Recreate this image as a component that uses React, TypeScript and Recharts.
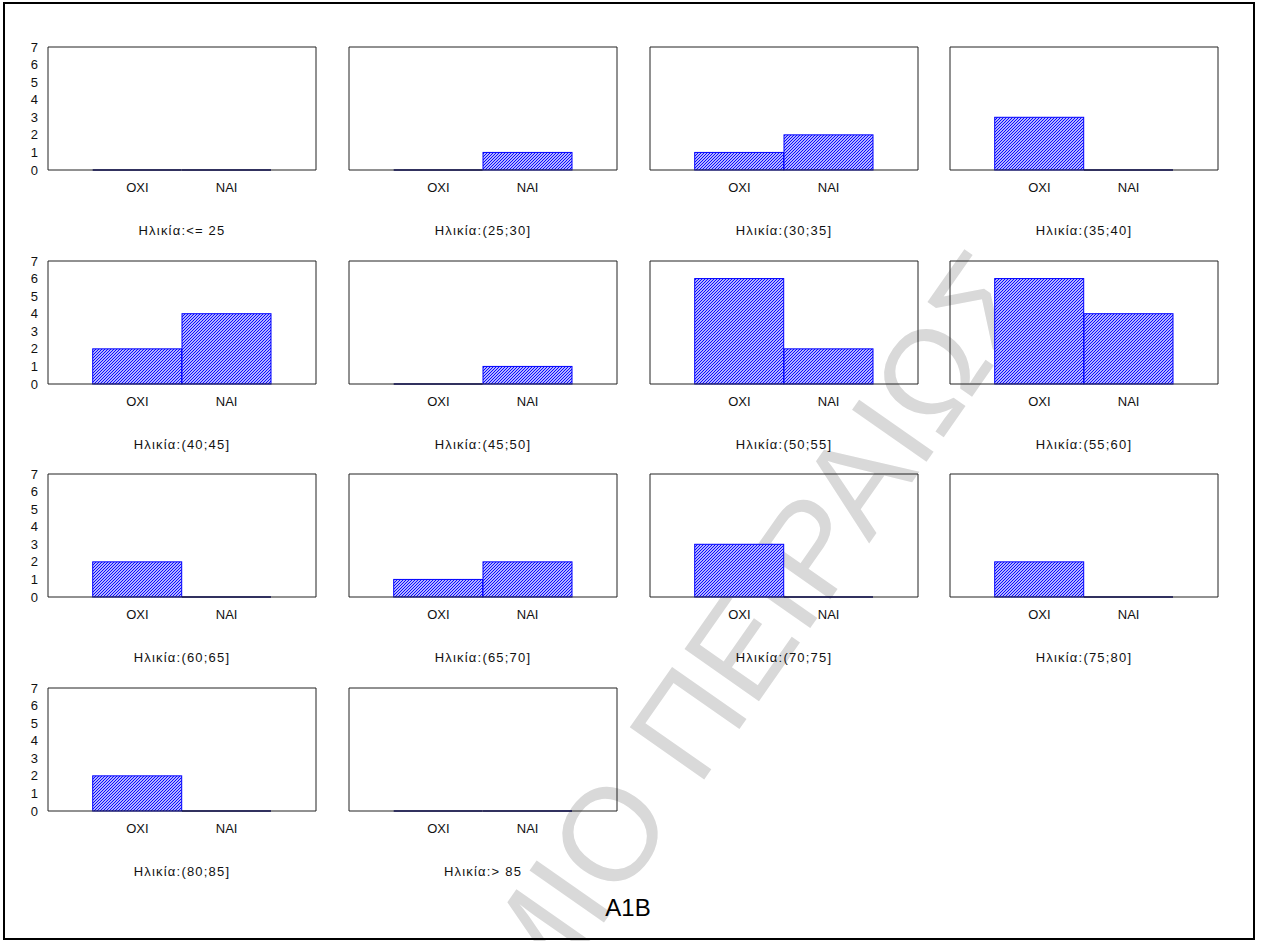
import { BarChart, Bar, XAxis, YAxis } from "recharts";

// answer categories and age groups
const categories = ["OXI", "NAI"];
const ageGroups = [
  "<= 25", "(25;30]", "(30;35]", "(35;40]",
  "(40;45]", "(45;50]", "(50;55]", "(55;60]",
  "(60;65]", "(65;70]", "(70;75]", "(75;80]",
  "(80;85]", "> 85",
];
const oxiCounts = [0, 0, 1, 3, 2, 0, 6, 6, 2, 1, 3, 2, 2, 0];
const naiCounts = [0, 1, 2, 0, 4, 1, 2, 4, 0, 2, 0, 0, 0, 0];
const yTicks = [0, 1, 2, 3, 4, 5, 6, 7];

const FONT = "'Liberation Sans', Arial, Helvetica, sans-serif";
const AXIS = "#222";
const BLUE = "#0000ff";

function HatchBar(props: any) {
  const { x, y, width, height, pid } = props;
  if (!height) {
    return <line x1={x} x2={x + width} y1={y} y2={y} stroke="#00007a" strokeWidth={1.5} />;
  }
  return (
    <rect x={x} y={y} width={width} height={height} fill={`url(#${pid})`} stroke={BLUE} strokeWidth={1} />
  );
}

function Panel({ index }: { index: number }) {
  const col = index % 4;
  const row = Math.floor(index / 4);
  const data = categories.map((cat, j) => ({
    cat,
    count: j === 0 ? oxiCounts[index] : naiCounts[index],
  }));
  const pid = `hatch-${index}`;
  const pad = { left: 44.7, right: 44.7 };

  return (
    <div style={{ position: "absolute", left: col * 300.8, top: 26.7 + row * 213.8 }}>
      <BarChart
        width={322}
        height={213}
        data={data}
        margin={{ top: 20, right: 6, bottom: 0, left: 0 }}
        barCategoryGap={0}
      >
        <defs>
          <pattern id={pid} patternUnits="userSpaceOnUse" width={3} height={3}>
            <rect width={3} height={3} fill="#fff" />
            <path d="M0,3 L3,0 M-1,1 L1,-1 M2,4 L4,2" stroke={BLUE} strokeWidth={1.15} />
          </pattern>
        </defs>

        <XAxis
          xAxisId="b"
          dataKey="cat"
          padding={pad}
          height={70}
          axisLine={{ stroke: AXIS }}
          tickLine={false}
          tickMargin={7}
          tick={{ fontSize: 13, fill: "#111" }}
          label={{
            value: `Ηλικία:${ageGroups[index]}`,
            position: "insideBottom",
            offset: 5,
            fontSize: 13,
            fill: "#111",
            letterSpacing: 1.2,
          }}
        />
        <XAxis
          xAxisId="t"
          dataKey="cat"
          orientation="top"
          mirror
          padding={pad}
          axisLine={{ stroke: AXIS }}
          tickLine={{ stroke: AXIS }}
          tickSize={4}
          tick={false}
        />

        <YAxis
          yAxisId="l"
          width={48}
          domain={[0, 7]}
          ticks={yTicks}
          interval={0}
          axisLine={{ stroke: AXIS }}
          tickLine={false}
          tickMargin={4}
          tick={col === 0 ? { fontSize: 13, fill: "#111" } : false}
        />
        <YAxis
          yAxisId="li"
          mirror
          domain={[0, 7]}
          ticks={yTicks}
          interval={0}
          axisLine={false}
          tickLine={{ stroke: AXIS }}
          tickSize={4}
          tick={false}
        />
        <YAxis
          yAxisId="r"
          orientation="right"
          mirror
          domain={[0, 7]}
          ticks={yTicks}
          interval={0}
          axisLine={{ stroke: AXIS }}
          tickLine={{ stroke: AXIS }}
          tickSize={4}
          tick={false}
        />

        <Bar
          xAxisId="b"
          yAxisId="l"
          dataKey="count"
          isAnimationActive={false}
          shape={(p: any) => <HatchBar {...p} pid={pid} />}
        />
      </BarChart>
    </div>
  );
}

export default function App() {
  return (
    <div
      style={{
        position: "absolute",
        left: 0,
        top: 0,
        width: 1261,
        height: 941,
        background: "#fff",
        overflow: "hidden",
        fontFamily: FONT,
      }}
    >
      <svg width={1261} height={941} style={{ position: "absolute", left: 0, top: 0 }}>
        <text
          x={1044}
          y={294}
          transform="rotate(-55 1044 294)"
          textAnchor="end"
          fontSize={132}
          fill="#d9d9d9"
          fontFamily={FONT}
        >
          ΠΑΝΕΠΙΣΤΗΜΙΟ ΠΕΙΡΑΙΩΣ
        </text>
        <text x={628} y={916} textAnchor="middle" fontSize={24} fill="#000" fontFamily={FONT}>
          A1B
        </text>
      </svg>

      {ageGroups.map((_, i) => (
        <Panel key={i} index={i} />
      ))}

      <div
        style={{
          position: "absolute",
          left: 3,
          top: 2,
          width: 1252,
          height: 938,
          border: "2px solid #000",
          boxSizing: "border-box",
        }}
      />
    </div>
  );
}
